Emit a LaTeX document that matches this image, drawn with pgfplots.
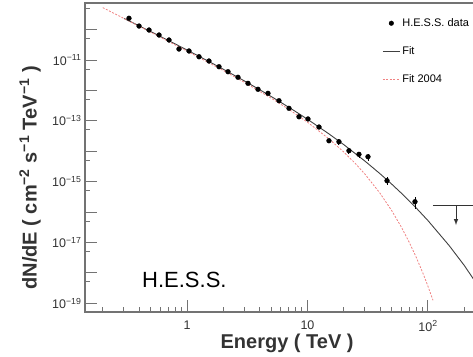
\documentclass[border=0pt]{standalone}
\usepackage{fontspec}
\setmainfont{Liberation Sans}
\usepackage{pgfplots}
\pgfplotsset{compat=1.18}
\usepackage{pgfplotstable}

\pgfplotstableread{
E F dF
0.330 2.36e-10 0.10e-10
0.400 1.31e-10 0.06e-10
0.484 9.7e-11 0.4e-11
0.586 6.64e-11 0.3e-11
0.709 4.55e-11 0.2e-11
0.858 2.30e-11 0.1e-11
1.039 1.98e-11 0.1e-11
1.258 1.28e-11 0.06e-11
1.522 9.27e-12 0.5e-12
1.843 6.02e-12 0.3e-12
2.189 4.12e-12 0.2e-12
2.650 2.70e-12 0.15e-12
3.208 1.71e-12 0.1e-12
3.883 1.09e-12 0.07e-12
4.700 8.03e-13 0.5e-13
5.80 4.58e-13 0.3e-13
7.02 2.58e-13 0.2e-13
8.50 1.36e-13 0.12e-13
10.09 1.15e-13 0.12e-13
12.46 6.25e-14 0.6e-14
15.07 2.21e-14 0.4e-14
18.24 2.05e-14 0.4e-14
22.08 1.04e-14 0.2e-14
26.74 7.91e-15 0.18e-14
31.77 6.59e-15 0.18e-14
45.7 1.07e-15 0.3e-15
78.0 2.18e-16 0.9e-16
}\hessdata

\pgfplotstableread{
E F
0.3 2.330e-10
0.4 1.332e-10
0.5 8.595e-11
0.6 5.988e-11
0.8 3.362e-11
1 2.134e-11
1.5 9.19e-12
2 4.975e-12
3 2.041e-12
4 1.061e-12
5 6.29e-13
6 4.064e-13
8 1.995e-13
10 1.125e-13
15 3.762e-14
20 1.646e-14
30 4.723e-15
40 1.817e-15
50 8.27e-16
60 4.197e-16
80 1.346e-16
100 5.213e-17
150 7.84e-18
200 1.751e-18
300 1.623e-19
}\fitnew

\pgfplotstableread{
E F
0.2 5.277e-10
0.3 2.326e-10
0.5 8.226e-11
1 1.970e-11
2 4.513e-12
3 1.839e-12
5 5.564e-13
7 2.384e-13
10 9.00e-14
15 2.590e-14
20 9.43e-15
25 3.909e-15
30 1.757e-15
40 4.143e-16
50 1.111e-16
60 3.234e-17
70 9.96e-18
80 3.196e-18
90 1.058e-18
100 3.594e-19
110 1.245e-19
}\fitold

\definecolor{fitred}{RGB}{240,130,130}

\begin{document}
\begin{tikzpicture}[x=1pt,y=1pt]
\useasboundingbox (0,0) rectangle (473,356);
\clip (0,0) rectangle (473,356);
\begin{axis}[
  at={(85pt,44pt)}, anchor=south west,
  scale only axis, width=415pt, height=309pt,
  xmode=log, ymode=log,
  xmin=0.1424, xmax=396, ymin=5.14e-20, ymax=7.50e-10,
  axis line style={black!55, line width=1.4pt},
  tick style={black!55, line width=1pt},
  tick pos=left, tick align=inside,
  major tick length=12pt, minor tick length=5pt,
  xtick={1,10,100}, xticklabels={1,10,10\textsuperscript{2}},
  minor xtick={0.2,0.3,0.4,0.5,0.6,0.7,0.8,0.9,2,3,4,5,6,7,8,9,20,30,40,50,60,70,80,90,200,300},
  ytick={1e-19,1e-18,1e-17,1e-16,1e-15,1e-14,1e-13,1e-12,1e-11,1e-10},
  yticklabels={10\textsuperscript{−19},{},10\textsuperscript{−17},{},10\textsuperscript{−15},{},10\textsuperscript{−13},{},10\textsuperscript{−11},{}},
  minor ytick={5e-20,5e-19,5e-18,5e-17,5e-16,5e-15,5e-14,5e-13,5e-12,5e-11,5e-10},
  ticklabel style={font=\fontsize{12.5}{14}\selectfont, text=black!80},
  xticklabel style={yshift=-5pt},
  xlabel={Energy ( TeV )},
  ylabel={dN/dE ( cm\textsuperscript{−2} s\textsuperscript{−1} TeV\textsuperscript{−1} )},
  label style={font=\fontsize{20}{24}\selectfont\bfseries, text=black!80},
  xlabel style={at={(axis description cs:0.487,-0.1003)}, anchor=center},
  ylabel style={at={(axis description cs:-0.1325,0.434)}, anchor=center},
  legend style={draw=none, fill=none, at={(axis description cs:0.716,0.957)}, anchor=north west,
    font=\fontsize{11}{13}\selectfont, row sep=14.5pt, inner sep=0pt, cells={anchor=west}},
  legend cell align=left,
]
\addlegendimage{only marks, mark=*, black, mark size=2.3pt}
\addlegendentry{H.E.S.S. data}
\addlegendimage{black!75, line width=0.9pt}
\addlegendentry{Fit}
\addlegendimage{fitred, dash pattern=on 2pt off 1.5pt, line width=0.8pt}
\addlegendentry{Fit 2004}

\addplot[black!75, line width=0.9pt, forget plot] table[x=E,y=F]{\fitnew};
\addplot[fitred, dash pattern=on 2pt off 1.5pt, line width=0.8pt, forget plot] table[x=E,y=F]{\fitold};
\addplot[only marks, mark=*, mark size=2.4pt, black, forget plot,
  error bars/.cd, y dir=both, y explicit, error mark=none, error bar style={line width=0.9pt}]
  table[x=E,y=F,y error=dF]{\hessdata};
\addplot[black!80, line width=1pt, forget plot] coordinates {(110,1.7e-16) (265,1.7e-16)};
\addplot[black!80, line width=1pt, -latex, forget plot] coordinates {(170.8,1.7e-16) (170.8,3.73e-17)};
\end{axis}
\node[anchor=base west, inner sep=0pt] at (142,68.7) {\fontsize{22}{26}\selectfont H.E.S.S.};
\end{tikzpicture}
\end{document}
